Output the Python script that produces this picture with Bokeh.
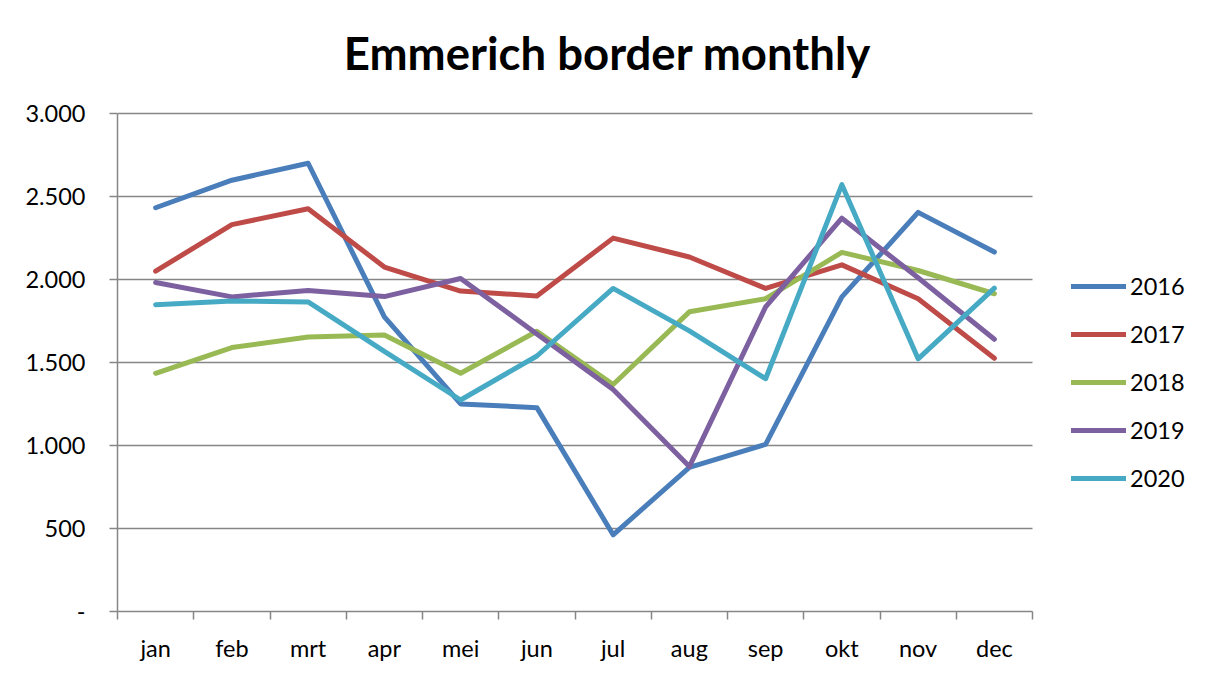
from bokeh.plotting import figure
from bokeh.models import FixedTicker, Legend, LegendItem, Range1d, Label
from bokeh.embed import file_html
from bokeh.resources import INLINE

months = ["jan", "feb", "mrt", "apr", "mei", "jun", "jul", "aug", "sep", "okt", "nov", "dec"]
y2016 = [2432, 2598, 2700, 1775, 1250, 1228, 462, 868, 1007, 1895, 2404, 2165]
y2017 = [2050, 2330, 2426, 2075, 1930, 1901, 2249, 2135, 1946, 2088, 1884, 1525]
y2018 = [1435, 1590, 1653, 1666, 1435, 1688, 1367, 1805, 1884, 2163, 2054, 1914]
y2019 = [1982, 1895, 1934, 1897, 2006, 1672, 1337, 873, 1835, 2369, 2010, 1640]
y2020 = [1848, 1870, 1865, 1567, 1274, 1539, 1946, 1690, 1402, 2571, 1522, 1948]
series_names = ["2016", "2017", "2018", "2019", "2020"]
series_values = [y2016, y2017, y2018, y2019, y2020]
colors = ["#4A7EBB", "#BE4B48", "#98B954", "#7D60A0", "#46AAC5"]
y_ticks = [0, 500, 1000, 1500, 2000, 2500, 3000]
y_tick_labels = ["-", "500", "1.000", "1.500", "2.000", "2.500", "3.000"]
title_text = "Emmerich border monthly"

FONT = "Lato"
GRID = "#868686"
LABEL_SIZE = "23.5px"

W, H = 1194, 664
LEFT, BOTTOM = 117, 50
PLOT_W = 915                      # pixel width of the category area
PLOT_H = 500.5                    # pixel height of the value area
FRAME_W = W - LEFT                # frame extends under the legend
FRAME_H = H - BOTTOM              # frame extends under the title
n = len(months)
y_max = y_ticks[-1]
x_end = n * FRAME_W / PLOT_W
y_end = y_max * FRAME_H / PLOT_H
px_x = n / PLOT_W                 # data units per pixel
px_y = y_max / PLOT_H

p = figure(width=W, height=H, output_backend="svg", toolbar_location=None,
           x_range=Range1d(0, x_end), y_range=Range1d(0, y_end),
           min_border_left=LEFT, min_border_right=0, min_border_top=0,
           min_border_bottom=BOTTOM)
p.outline_line_color = None
p.background_fill_color = "white"
p.border_fill_color = "white"

xs = [i + 0.5 for i in range(n)]

# x axis
xa = p.xaxis[0]
xa.bounds = (0, n)
xa.ticker = FixedTicker(ticks=xs, minor_ticks=list(range(n + 1)))
xa.major_label_overrides = {x: m for x, m in zip(xs, months)}
xa.major_tick_out = 0
xa.major_tick_in = 0
xa.minor_tick_out = 8
xa.minor_tick_in = 0
xa.minor_tick_line_color = GRID
xa.minor_tick_line_width = 1.5
xa.axis_line_color = GRID
xa.axis_line_width = 1.5
xa.major_label_text_font = FONT
xa.major_label_text_font_size = LABEL_SIZE
xa.major_label_text_color = "black"
xa.major_label_standoff = 14

# y axis
ya = p.yaxis[0]
ya.bounds = (0, y_max)
ya.ticker = FixedTicker(ticks=y_ticks, minor_ticks=[])
ya.major_label_overrides = {t: l for t, l in zip(y_ticks, y_tick_labels)}
ya.major_tick_out = 8
ya.major_tick_in = 0
ya.major_tick_line_color = GRID
ya.major_tick_line_width = 1.5
ya.axis_line_color = GRID
ya.axis_line_width = 1.5
ya.major_label_text_font = FONT
ya.major_label_text_font_size = LABEL_SIZE
ya.major_label_text_color = "black"
ya.major_label_standoff = 24

# horizontal gridlines, limited to the category area
p.xgrid.visible = False
p.ygrid.visible = False
grid_vals = y_ticks[1:]
p.segment(x0=[0] * len(grid_vals), x1=[n] * len(grid_vals), y0=grid_vals, y1=grid_vals,
          line_color=GRID, line_width=1.5, level="underlay")

items = []
for name, vals, c in zip(series_names, series_values, colors):
    r = p.line(xs, vals, line_color=c, line_width=5, line_join="round", line_cap="round")
    items.append(LegendItem(label=name, renderers=[r]))

legend = Legend(items=items, location=(PLOT_W + 29, 109), glyph_width=55, glyph_height=22,
                label_height=22, label_standoff=4, spacing=20, padding=10,
                border_line_alpha=0, background_fill_alpha=0,
                label_text_font=FONT, label_text_font_size=LABEL_SIZE, label_text_color="black")
p.add_layout(legend, "center")

# chart title, centred over the whole chart
title = Label(x=(607 - LEFT) * px_x, y=(FRAME_H - 52) * px_y, text=title_text,
              text_font=FONT, text_font_style="bold", text_font_size="45.5px",
              text_color="black", text_align="center", text_baseline="alphabetic")
p.add_layout(title)

open("out.html", "w").write(file_html(p, INLINE))
